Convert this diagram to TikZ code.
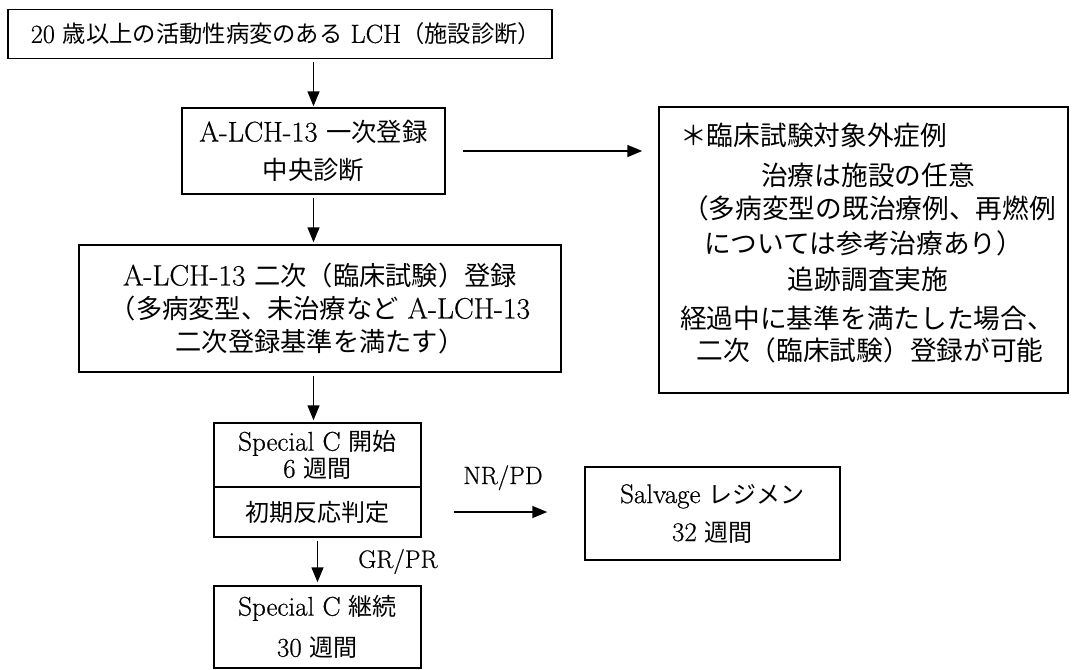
\documentclass[tikz,border=0pt]{standalone}
\usepackage{fontspec}
\setmainfont{Latin Modern Roman}[FakeBold=0.6]
\newfontfamily\jp{Noto Sans CJK JP}[Scale=0.89]
\usetikzlibrary{arrows.meta}
\newcommand\fsz[2]{\fontsize{#1}{#2}\selectfont}
\begin{document}
\begin{tikzpicture}[x=1pt,y=-1pt,
  box/.style={draw, line width=1.5pt, inner sep=0pt, align=center},
  arr/.style={line width=1.5pt, -{Triangle[length=15pt,width=12pt]}},
  txt/.style={font=\fsz{30}{30}, inner sep=0pt},
  lbl/.style={font=\fsz{25}{30}, inner sep=0pt}]
\useasboundingbox (0,0) rectangle (1072,670);
\fill[white] (0,0) rectangle (1072,670);

\node[box, minimum width=544pt, minimum height=49pt, font=\fsz{26.2}{38}] (b1) at (280,34)
  {\hspace*{12pt}20 {\jp 歳以上の活動性病変のある} LCH{\jp （施設診断）}};
\node[box, minimum width=263pt, minimum height=86pt, font=\fsz{28.5}{38}] (b2) at (313.5,151)
  {A-LCH-13 {\jp 一次登録}\\{\jp 中央診断}};
\node[box, minimum width=482pt, minimum height=127pt, font=\fsz{29.5}{33}] (b3) at (320,308.5)
  {A-LCH-13 {\jp 二次（臨床試験）登録}\\{\jp （多病変型、未治療など} A-LCH-13\\{\jp 二次登録基準を満たす）}};
\node[box, minimum width=207pt, minimum height=64pt, font=\fsz{27}{27}] (b4t) at (317.5,455)
  {Special C {\jp 開始}\\6 {\jp 週間}};
\node[box, minimum width=207pt, minimum height=50pt, font=\fsz{27}{30}] (b4b) at (317.5,512)
  {{\jp 初期反応判定}};
\node[box, minimum width=207pt, minimum height=82pt, font=\fsz{27}{41}] (b5) at (317.5,627)
  {Special C {\jp 継続}\\30 {\jp 週間}};
\node[box, minimum width=255pt, minimum height=93pt, font=\fsz{27}{38}] (sal) at (712.5,513.5)
  {Salvage {\jp レジメン}\\32 {\jp 週間}};
\node[box, minimum width=409pt, minimum height=286pt] (r) at (863.5,250) {};

\node[txt, anchor=west] (r1) at (680,135) {{\jp ＊臨床試験対象外症例}};
\node[txt] (r2) at (868,175) {{\jp 治療は施設の任意}};
\node[txt] (r3) at (869,208) {{\jp （多病変型の既治療例、再燃例}};
\node[txt, anchor=west] (r4) at (704,243) {{\jp については参考治療あり）}};
\node[txt] (r5) at (868,279) {{\jp 追跡調査実施}};
\node[txt] (r6) at (867,318) {{\jp 経過中に基準を満たした場合、}};
\node[txt] (r7) at (870,350) {{\jp 二次（臨床試験）登録が可能}};

\draw[arr, shorten <=3pt, shorten >=1pt] (b1.south -| b2.north) -- (b2.north);
\draw[arr, shorten <=3pt, shorten >=2pt] (b2.south) -- (b2.south |- b3.north);
\draw[arr, shorten <=3pt, shorten >=2pt] (b3.south -| b2.south) -- (b4t.north -| b2.south);
\draw[arr, shorten <=17pt, shorten >=16pt] (b2.east) -- (b2.east -| r.west);
\draw[arr, shorten <=32pt, shorten >=37pt] (b4b.east) -- (b4b.east -| sal.west)
  node[midway, lbl, anchor=base, yshift=28pt] (nr) {NR/PD};
\draw[arr, shorten <=3pt, shorten >=3pt] (b4b.south) -- (b5.north)
  node[midway, lbl, anchor=west, xshift=40pt] (gr) {GR/PR};
\end{tikzpicture}
\end{document}
